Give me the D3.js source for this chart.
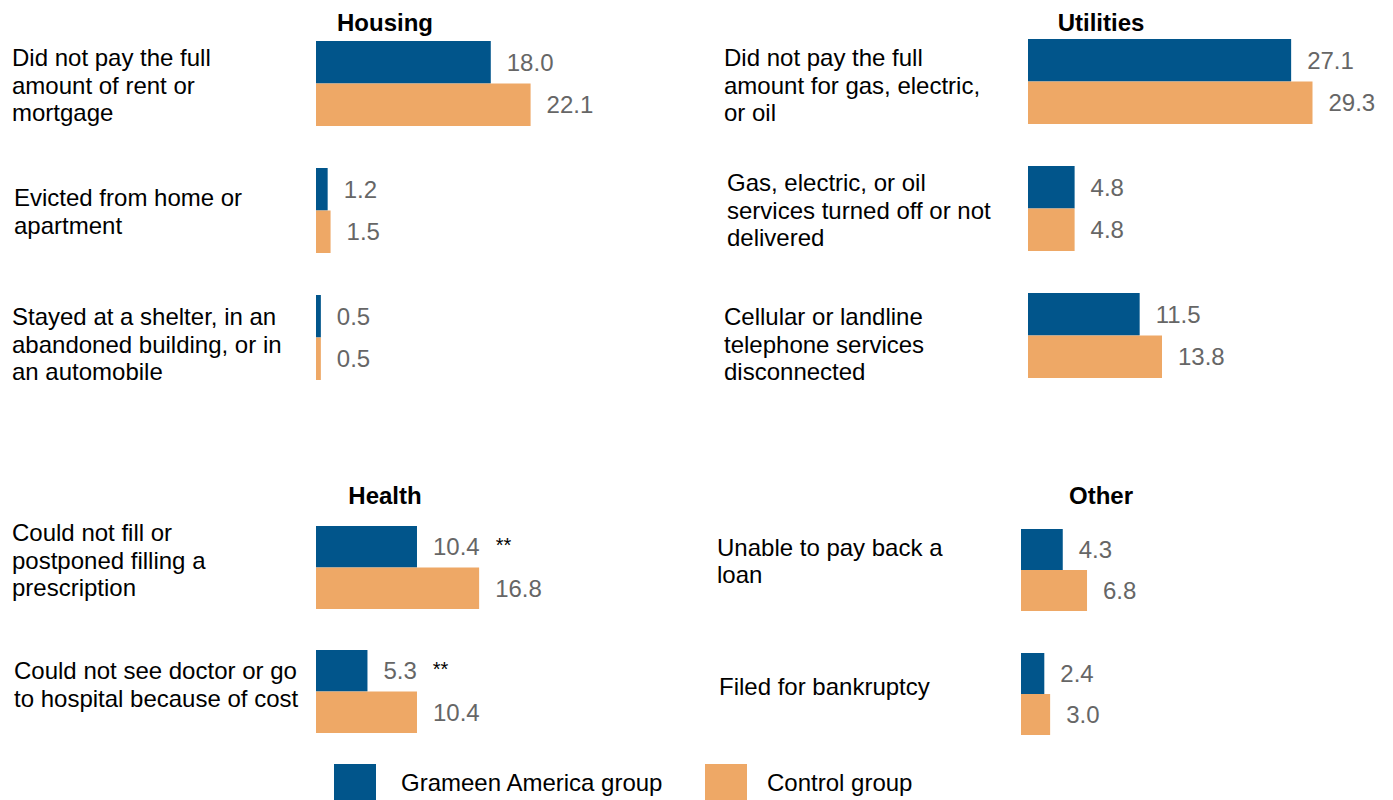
<!DOCTYPE html>
<html>
<head>
<meta charset="utf-8">
<script src="https://cdn.jsdelivr.net/npm/d3@7"></script>
<style>
  body { margin: 0; background: #fff; }
  text { font-family: "Liberation Sans", Arial, sans-serif; }
</style>
</head>
<body>
<div id="chart-area"></div>
<script>
// Data
var seriesNames = ["Grameen America group", "Control group"];

var housingLabels = [
    "Did not pay the full|amount of rent or|mortgage",
    "Evicted from home or|apartment",
    "Stayed at a shelter, in an|abandoned building, or in|an automobile"
];
var housingGrameen = [18.0, 1.2, 0.5];
var housingControl = [22.1, 1.5, 0.5];

var utilitiesLabels = [
    "Did not pay the full|amount for gas, electric,|or oil",
    "Gas, electric, or oil|services turned off or not|delivered",
    "Cellular or landline|telephone services|disconnected"
];
var utilitiesGrameen = [27.1, 4.8, 11.5];
var utilitiesControl = [29.3, 4.8, 13.8];

var healthLabels = [
    "Could not fill or|postponed filling a|prescription",
    "Could not see doctor or go|to hospital because of cost"
];
var healthGrameen = [10.4, 5.3];
var healthControl = [16.8, 10.4];
var healthStars = ["**", "**"];

var otherLabels = [
    "Unable to pay back a|loan",
    "Filed for bankruptcy"
];
var otherGrameen = [4.3, 2.4];
var otherControl = [6.8, 3.0];

var colors = ["#01558b", "#eea866"];

var width = 1393, height = 800;

var svg = d3.select("#chart-area").append("svg")
    .attr("width", width)
    .attr("height", height);

// Shared value scale
var x = d3.scaleLinear().domain([0, 30]).range([0, 291.3]);

// Layout per panel (label nudges follow the original's uneven placement)
var panels = [
    {title: "Housing", labels: housingLabels, a: housingGrameen, b: housingControl, stars: null,
     titleX: 385, titleY: 31, labelX: [12, 14, 12], labelDy: [2, 1, 7], barX: 316, top: 41, step: 127, band: 85},
    {title: "Utilities", labels: utilitiesLabels, a: utilitiesGrameen, b: utilitiesControl, stars: null,
     titleX: 1101, titleY: 31, labelX: [724, 727, 724], labelDy: [4, 2, 9], barX: 1028, top: 39, step: 127, band: 85},
    {title: "Health", labels: healthLabels, a: healthGrameen, b: healthControl, stars: healthStars,
     titleX: 385, titleY: 504, labelX: [12, 14], labelDy: [-7, -7], barX: 316, top: 526, step: 124, band: 83},
    {title: "Other", labels: otherLabels, a: otherGrameen, b: otherControl, stars: null,
     titleX: 1101, titleY: 504, labelX: [717, 719], labelDy: [-9, -7], barX: 1021, top: 529, step: 124, band: 82}
];

panels.forEach(function(p) {
    var n = p.labels.length;
    var y = d3.scaleBand()
        .domain(d3.range(n))
        .range([p.top, p.top + n * p.step - (p.step - p.band)])
        .paddingInner(1 - p.band / p.step)
        .paddingOuter(0);
    var ySub = d3.scaleBand().domain([0, 1]).range([0, y.bandwidth()]);

    var g = svg.append("g");

    g.append("text")
        .attr("x", p.titleX)
        .attr("y", p.titleY)
        .attr("text-anchor", "middle")
        .attr("font-size", 24)
        .attr("font-weight", "bold")
        .attr("fill", "#000")
        .text(p.title);

    d3.range(n).forEach(function(i) {
        var cy = y(i) + y.bandwidth() / 2 + p.labelDy[i];
        var lines = p.labels[i].split("|");
        var lh = 27.5;
        var t = g.append("text")
            .attr("font-size", 24)
            .attr("fill", "#000");
        lines.forEach(function(line, k) {
            t.append("tspan")
                .attr("x", p.labelX[i])
                .attr("y", cy + (k - (lines.length - 1) / 2) * lh)
                .attr("dy", "0.35em")
                .text(line);
        });

        [p.a[i], p.b[i]].forEach(function(v, s) {
            var by = y(i) + ySub(s);
            g.append("rect")
                .attr("x", p.barX)
                .attr("y", by)
                .attr("width", x(v))
                .attr("height", ySub.bandwidth())
                .attr("fill", colors[s]);
            var lbl = g.append("text")
                .attr("x", p.barX + x(v) + 16)
                .attr("y", by + ySub.bandwidth() / 2)
                .attr("dy", "0.35em")
                .attr("font-size", 24)
                .attr("fill", "#666")
                .text(v.toFixed(1));
            if (s === 0 && p.stars && p.stars[i]) {
                var w = lbl.node().getComputedTextLength();
                g.append("text")
                    .attr("x", p.barX + x(v) + 16 + w + 16)
                    .attr("y", by + ySub.bandwidth() / 2 - 2)
                    .attr("dy", "0.35em")
                    .attr("font-size", 20)
                    .attr("fill", "#000")
                    .text(p.stars[i]);
            }
        });
    });
});

// Legend
var legendX = [334, 705];
var legendTextX = [401, 767];
var legend = svg.append("g");
seriesNames.forEach(function(name, s) {
    legend.append("rect")
        .attr("x", legendX[s])
        .attr("y", 764)
        .attr("width", 42)
        .attr("height", 42)
        .attr("fill", colors[s]);
    legend.append("text")
        .attr("x", legendTextX[s])
        .attr("y", 783)
        .attr("dy", "0.35em")
        .attr("font-size", 24)
        .attr("fill", "#000")
        .text(name);
});
</script>
</body>
</html>
